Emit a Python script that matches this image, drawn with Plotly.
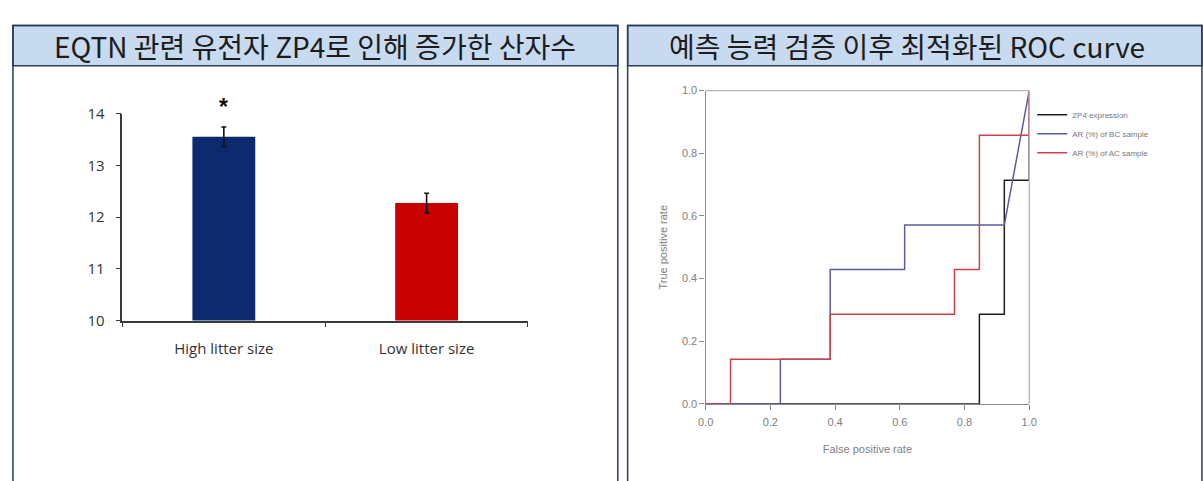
import plotly.graph_objects as go

# ---- left panel: litter size by group ----
groups = ["High litter size", "Low litter size"]
litter_mean = [13.55, 12.27]
litter_err = [0.19, 0.19]
bar_colors = ["#0d2a6e", "#c80000"]
y_ticks = [10, 11, 12, 13, 14]

# ---- right panel: ROC curves ----
roc_names = ["ZP4 expression", "AR (%) of BC sample", "AR (%) of AC sample"]
roc_fpr = [
    [0.0, 0.846, 0.846, 0.923, 0.923, 1.0, 1.0],
    [0.0, 0.231, 0.231, 0.385, 0.385, 0.615, 0.615, 0.923, 1.0],
    [0.0, 0.077, 0.077, 0.385, 0.385, 0.769, 0.769, 0.846, 0.846, 1.0, 1.0],
]
roc_tpr = [
    [0.0, 0.0, 0.286, 0.286, 0.714, 0.714, 1.0],
    [0.0, 0.0, 0.143, 0.143, 0.429, 0.429, 0.571, 0.571, 1.0],
    [0.0, 0.0, 0.143, 0.143, 0.286, 0.286, 0.429, 0.429, 0.857, 0.857, 1.0],
]
roc_colors = ["#1e1e1e", "#5b5ba3", "#d2404c"]
roc_ticks = [0.0, 0.2, 0.4, 0.6, 0.8, 1.0]

panel_titles = ["EQTN 관련 유전자 ZP4로 인해 증가한 산자수",
                "예측 능력 검증 이후 최적화된 ROC curve"]

W, H = 1203, 481


def px(x):
    return x / W


def py(y):
    return 1 - y / H


fig = go.Figure()

fig.add_trace(go.Bar(
    x=groups, y=litter_mean, marker=dict(color=bar_colors, line=dict(width=0)),
    width=0.31,
    error_y=dict(type="data", array=litter_err, color="#111111", thickness=1.6, width=2.5),
    xaxis="x", yaxis="y", showlegend=False,
))

for name, fx, ty, col in zip(roc_names, roc_fpr, roc_tpr, roc_colors):
    fig.add_trace(go.Scatter(
        x=fx, y=ty, mode="lines", name=name,
        line=dict(color=col, width=1.5),
        xaxis="x2", yaxis="y2",
    ))

# significance marker above the first bar
fig.add_annotation(x=groups[0], y=litter_mean[0] + litter_err[0], xref="x", yref="y",
                   text="<b>*</b>", showarrow=False, yshift=20,
                   font=dict(size=23, color="#111111", family="Liberation Sans"))

sans = "Open Sans"
axis_grey = "#8a8a8a"
label_grey = "#808080"
fig.update_layout(
    width=W, height=H, margin=dict(l=0, r=0, t=0, b=0),
    paper_bgcolor="white", plot_bgcolor="white",
    font=dict(family="Liberation Sans"),
    xaxis=dict(domain=[px(116), px(527)], type="category", range=[-0.5, 1.5],
               showline=True, linecolor="#3a3a3a", linewidth=1.6,
               ticks="outside", tickson="boundaries", ticklen=5, tickcolor="#3a3a3a",
               showgrid=False, ticklabelstandoff=14,
               tickfont=dict(family=sans, size=15, color="#333333")),
    yaxis=dict(domain=[py(323), py(107)], range=[10, 14], tickvals=y_ticks,
               showline=True, linecolor="#3a3a3a", linewidth=1.6,
               ticks="outside", ticklen=5, tickcolor="#3a3a3a",
               showgrid=False, zeroline=False, ticklabelstandoff=8,
               tickfont=dict(family=sans, size=15, color="#333333")),
    xaxis2=dict(domain=[px(707), px(1035)], range=[0, 1], tickvals=roc_ticks,
                tickformat=".1f", showline=True, linecolor=axis_grey, linewidth=1.3,
                ticks="outside", ticklen=5, tickcolor=axis_grey, showgrid=False,
                zeroline=False, anchor="y2", ticklabelstandoff=3,
                tickfont=dict(family="Liberation Sans Narrow, Liberation Sans", size=11,
                              color=label_grey),
                title=dict(text="False positive rate", standoff=17,
                           font=dict(family="Liberation Sans Narrow, Liberation Sans",
                                     size=11, color=label_grey))),
    yaxis2=dict(domain=[py(410), py(83)], range=[0, 1], tickvals=roc_ticks,
                tickformat=".1f", showline=True, linecolor=axis_grey, linewidth=1.3,
                ticks="outside", ticklen=5, tickcolor=axis_grey, showgrid=False,
                zeroline=False, anchor="x2",
                tickfont=dict(family="Liberation Sans Narrow, Liberation Sans", size=11,
                              color=label_grey),
                title=dict(text="True positive rate", standoff=12,
                           font=dict(family="Liberation Sans Narrow, Liberation Sans",
                                     size=11, color=label_grey))),
    legend=dict(x=px(1038), y=py(93), xanchor="left", yanchor="top",
                bgcolor="rgba(0,0,0,0)", font=dict(size=8, color="#777777"),
                itemwidth=30, tracegroupgap=0),
)

# frame lines on the top and right of the ROC plot
fig.add_shape(type="line", xref="x2 domain", yref="y2 domain", x0=0, x1=1, y0=1, y1=1,
              line=dict(color="#b5b5b5", width=1.3))
fig.add_shape(type="line", xref="x2 domain", yref="y2 domain", x0=1, x1=1, y0=0, y1=1,
              line=dict(color="#b5b5b5", width=1.3))

# panel boxes with shaded title strips
border = "#2b3a63"
for (x0, x1), title in zip([(5, 618), (628, 1210)], panel_titles):
    fig.add_shape(type="rect", xref="paper", yref="paper",
                  x0=px(x0), x1=px(x1), y0=py(500), y1=py(15),
                  line=dict(color=border, width=1.5), fillcolor="rgba(0,0,0,0)", layer="above")
    fig.add_shape(type="rect", xref="paper", yref="paper",
                  x0=px(x0), x1=px(x1), y0=py(57), y1=py(15),
                  line=dict(color=border, width=1.5), fillcolor="#c7daf0", layer="below")
    fig.add_annotation(x=px((x0 + min(x1, 1195)) / 2), y=py(36), xref="paper", yref="paper",
                       text=title, showarrow=False, xanchor="center", yanchor="middle",
                       font=dict(family="Noto Sans CJK KR", size=28, color="#1c1c1c"))

fig.write_html("out.html")
